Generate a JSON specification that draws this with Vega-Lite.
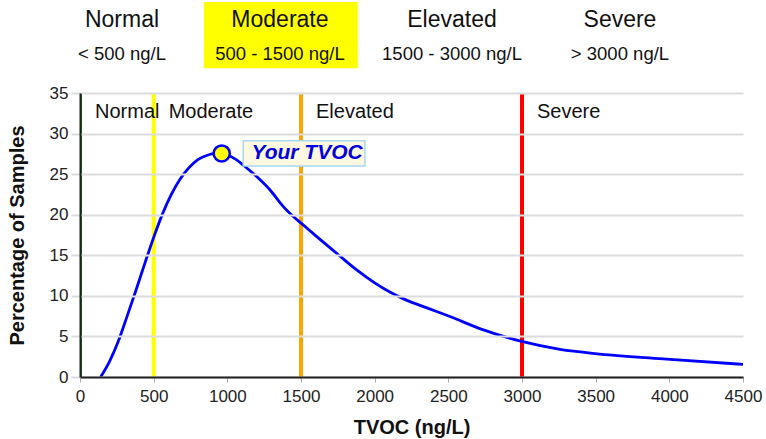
{
  "$schema": "https://vega.github.io/schema/vega-lite/v6.json",
  "width": 663,
  "height": 284,
  "autosize": {"type": "none"},
  "padding": {"left": 80, "top": 93, "right": 23, "bottom": 62},
  "background": "white",
  "config": {
    "font": "Liberation Sans",
    "view": {"stroke": null},
    "axis": {"labelFont": "Liberation Sans", "titleFont": "Liberation Sans"}
  },
  "datasets": {
    "curve": [
      {"tvoc": 140, "pct": 0},
      {"tvoc": 200, "pct": 1.9},
      {"tvoc": 260, "pct": 4.4},
      {"tvoc": 320, "pct": 7.5},
      {"tvoc": 380, "pct": 10.7},
      {"tvoc": 440, "pct": 14.0},
      {"tvoc": 500, "pct": 17.2},
      {"tvoc": 560, "pct": 20.1},
      {"tvoc": 620, "pct": 22.5},
      {"tvoc": 680, "pct": 24.4},
      {"tvoc": 740, "pct": 25.8},
      {"tvoc": 800, "pct": 26.8},
      {"tvoc": 860, "pct": 27.3},
      {"tvoc": 920, "pct": 27.55},
      {"tvoc": 962, "pct": 27.55},
      {"tvoc": 1010, "pct": 27.3},
      {"tvoc": 1063, "pct": 26.75},
      {"tvoc": 1109, "pct": 26.1},
      {"tvoc": 1199, "pct": 24.7},
      {"tvoc": 1290, "pct": 23.05},
      {"tvoc": 1380, "pct": 21.0},
      {"tvoc": 1440, "pct": 19.9},
      {"tvoc": 1505, "pct": 18.9},
      {"tvoc": 1607, "pct": 17.3},
      {"tvoc": 1742, "pct": 15.25},
      {"tvoc": 1878, "pct": 13.2},
      {"tvoc": 2000, "pct": 11.6},
      {"tvoc": 2100, "pct": 10.5},
      {"tvoc": 2200, "pct": 9.6},
      {"tvoc": 2350, "pct": 8.55},
      {"tvoc": 2511, "pct": 7.45},
      {"tvoc": 2738, "pct": 5.8},
      {"tvoc": 3005, "pct": 4.35},
      {"tvoc": 3258, "pct": 3.4},
      {"tvoc": 3530, "pct": 2.83},
      {"tvoc": 3982, "pct": 2.2},
      {"tvoc": 4500, "pct": 1.56}
    ],
    "zones": [
      {"zone": "Normal", "threshold": 0, "color": "Normal"},
      {"zone": "Moderate", "threshold": 500, "color": "Moderate"},
      {"zone": "Elevated", "threshold": 1500, "color": "Elevated"},
      {"zone": "Severe", "threshold": 3000, "color": "Severe"}
    ],
    "header": [
      {"zone": "Normal", "range": "< 500 ng/L", "hx": 285},
      {"zone": "Moderate", "range": "500 - 1500 ng/L", "hx": 1357},
      {"zone": "Elevated", "range": "1500 - 3000 ng/L", "hx": 2525},
      {"zone": "Severe", "range": "> 3000 ng/L", "hx": 3665}
    ],
    "you": [
      {"tvoc": 962, "pct": 27.55, "label": "Your TVOC", "bx1": 1108, "bx2": 1934, "by1": 26.0, "by2": 29.1, "tx": 1541}
    ],
    "hilite": [
      {"zone": "Moderate", "x1": 840, "x2": 1885, "y1": 38.05, "y2": 46.2}
    ]
  },
  "layer": [
    {
      "data": {"name": "curve"},
      "mark": {"type": "line", "strokeOpacity": 0, "clip": true},
      "encoding": {
        "x": {"field": "tvoc", "type": "quantitative",
          "scale": {"domain": [0, 4500], "nice": false},
          "axis": {"title": "TVOC (ng/L)", "titleFontSize": 20, "titleFontWeight": "bold", "titlePadding": 13, "titleColor": "#111",
            "labelFontSize": 17, "labelColor": "#222", "grid": false, "format": "d", "labelOverlap": false, "labelFlush": false,
            "values": [0, 500, 1000, 1500, 2000, 2500, 3000, 3500, 4000, 4500],
            "domainColor": "#222", "domainWidth": 2, "tickColor": "#aaa", "tickSize": 5, "labelPadding": 6, "zindex": 1}},
        "y": {"field": "pct", "type": "quantitative",
          "scale": {"domain": [0, 35], "nice": false},
          "axis": {"title": "Percentage of Samples", "titleFontSize": 20, "titleFontWeight": "bold", "titlePadding": 22, "titleColor": "#111",
            "labelFontSize": 17, "labelColor": "#222", "values": [0, 5, 10, 15, 20, 25, 30, 35], "labelOverlap": false,
            "grid": true, "gridColor": "#dcdcdc", "gridWidth": 2,
            "domainColor": "#222", "domainWidth": 2, "tickColor": "#dcdcdc", "tickWidth": 2, "tickSize": 9, "labelPadding": 3, "zindex": 1}}
      }
    },
    {
      "data": {"name": "zones"},
      "mark": {"type": "rule", "strokeWidth": 4, "clip": true},
      "encoding": {
        "x": {"field": "threshold", "type": "quantitative"},
        "y": {"datum": 0},
        "y2": {"datum": 35},
        "color": {"field": "color", "type": "nominal",
          "scale": {"domain": ["Normal", "Moderate", "Elevated", "Severe"], "range": ["#0a7a0a", "#ffff00", "#ffa500", "#ff0000"]},
          "legend": null}
      }
    },
    {
      "data": {"name": "zones"},
      "mark": {"type": "text", "align": "left", "baseline": "middle", "dx": 15, "fontSize": 20, "color": "#111"},
      "encoding": {
        "x": {"field": "threshold", "type": "quantitative"},
        "y": {"datum": 32.7},
        "text": {"field": "zone"}
      }
    },
    {
      "data": {"name": "curve"},
      "mark": {"type": "line", "color": "#0000ff", "strokeWidth": 2.8, "interpolate": "monotone", "clip": true},
      "encoding": {
        "x": {"field": "tvoc", "type": "quantitative"},
        "y": {"field": "pct", "type": "quantitative"}
      }
    },
    {
      "data": {"name": "you"},
      "mark": {"type": "rect", "fill": "#fff8e0", "stroke": "#a8d8f0", "strokeWidth": 1.5},
      "encoding": {
        "x": {"field": "bx1", "type": "quantitative"},
        "x2": {"field": "bx2"},
        "y": {"field": "by1", "type": "quantitative"},
        "y2": {"field": "by2"}
      }
    },
    {
      "data": {"name": "you"},
      "mark": {"type": "text", "fontSize": 21, "fontWeight": "bold", "fontStyle": "italic", "color": "#0000dd", "baseline": "middle", "align": "center"},
      "encoding": {
        "x": {"field": "tx", "type": "quantitative"},
        "y": {"field": "pct", "type": "quantitative"},
        "text": {"field": "label"}
      }
    },
    {
      "data": {"name": "you"},
      "mark": {"type": "point", "filled": true, "fill": "#ffff00", "stroke": "#0000ff", "strokeWidth": 2.5, "size": 260, "opacity": 1},
      "encoding": {
        "x": {"field": "tvoc", "type": "quantitative"},
        "y": {"field": "pct", "type": "quantitative"}
      }
    },
    {
      "data": {"name": "hilite"},
      "mark": {"type": "rect", "fill": "#ffff00"},
      "encoding": {
        "x": {"field": "x1", "type": "quantitative"},
        "x2": {"field": "x2"},
        "y": {"field": "y1", "type": "quantitative"},
        "y2": {"field": "y2"}
      }
    },
    {
      "data": {"name": "header"},
      "mark": {"type": "text", "fontSize": 23, "baseline": "middle", "align": "center", "color": "#111"},
      "encoding": {
        "x": {"field": "hx", "type": "quantitative"},
        "y": {"datum": 44.0},
        "text": {"field": "zone"}
      }
    },
    {
      "data": {"name": "header"},
      "mark": {"type": "text", "fontSize": 18.5, "baseline": "middle", "align": "center", "color": "#111"},
      "encoding": {
        "x": {"field": "hx", "type": "quantitative"},
        "y": {"datum": 39.8},
        "text": {"field": "range"}
      }
    }
  ]
}
